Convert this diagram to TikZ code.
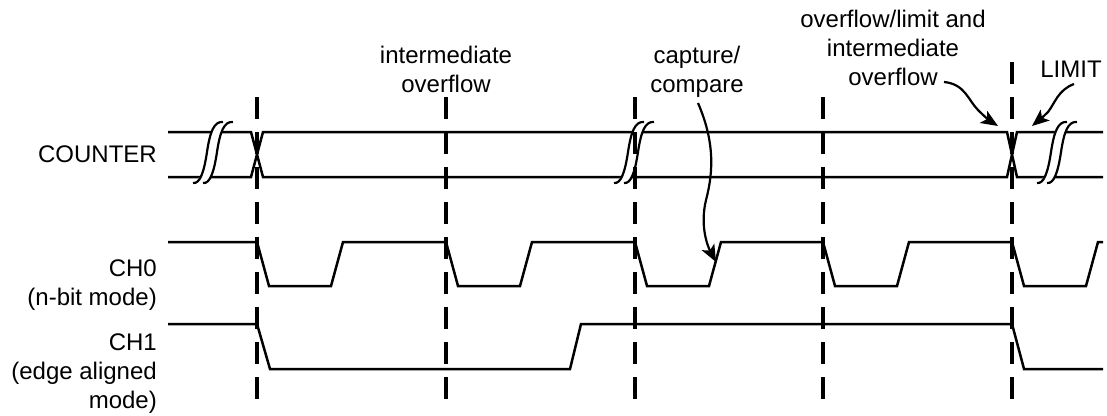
\documentclass[tikz,border=0pt]{standalone}
\usepackage{fontspec}
\setmainfont{Liberation Sans}
\usetikzlibrary{arrows.meta}
\tikzset{
  sig/.style={line width=2.5pt, line join=miter},
  tick/.style={line width=3.2pt, dash pattern=on 22pt off 13pt},
  lbl/.style={inner sep=0pt, font=\fontsize{24}{29}\selectfont},
  callout/.style={line width=2.2pt, -{Stealth[length=17pt,width=14pt,inset=4pt]}}
}
\begin{document}
\begin{tikzpicture}[x=1pt,y=-1pt]
\useasboundingbox (0,0) rectangle (1107,415);
% signal names (base = last line)
\node[lbl, anchor=base east] (cnt) at (157,162) {COUNTER};
\node[lbl, anchor=base east, align=right] (ch0) at (157,305) {CH0\\(n-bit mode)};
\node[lbl, anchor=base east, align=right] (ch1) at (157,408) {CH1\\(edge aligned\\mode)};
% counter bus
\draw[sig] (168,132) -- (251,132) -- (263,177) -- (1007,177) -- (1017,132) -- (1103,132);
\draw[sig] (168,177) -- (251,177) -- (263,132) -- (1007,132) -- (1017,177) -- (1103,177);
% breaks in the bus
\foreach \c in {213,634,1057}{
  \draw[white, line width=9pt] (\c-14,182) .. controls (\c-8,183) and (\c-4,172) .. (\c-1,152)
    .. controls (\c+2,132) and (\c+6,122) .. (\c+14,123);
  \foreach \m in {\c-5,\c+5}
    \draw[line width=2.2pt] (\m-15,183) .. controls (\m-8,184) and (\m-4,172) .. (\m-1,152)
      .. controls (\m+2,132) and (\m+6,121) .. (\m+15,122);
}
% CH0
\draw[sig] (168,242) -- (257,242) -- (269,286) -- (331,286) -- (343,242)
  -- (446,242) -- (458,286) -- (520,286) -- (532,242)
  -- (635,242) -- (647,286) -- (709,286) -- (721,242)
  -- (823,242) -- (835,286) -- (897,286) -- (909,242)
  -- (1012,242) -- (1024,286) -- (1086,286) -- (1098,242) -- (1103,242);
% CH1
\draw[sig] (168,324) -- (257,324) -- (270,369) -- (570,369) -- (581,324)
  -- (1012,324) -- (1024,369) -- (1103,369);
% event lines
\foreach \x in {257,446,635,823}
  \draw[tick] (\x,97) -- (\x,400);
\draw[tick] (1012,62) -- (1012,400);
% event labels
\node[lbl, anchor=base, align=center] (intov) at (446,92) {intermediate\\overflow};
\node[lbl, anchor=base, align=center] (capcmp) at (697,92) {capture/\\compare};
\node[lbl, anchor=base, align=center] (ovlim) at (893,85) {overflow/limit and\\intermediate\\overflow};
\node[lbl, anchor=base] (limit) at (1071,77) {LIMIT};
% arrow ends
\coordinate (captail) at (698,103);
\coordinate (caphead) at (716,262);
\coordinate (ovtail) at (944,82);
\coordinate (ovhead) at (998,126);
\coordinate (limtail) at (1074,84);
\coordinate (limhead) at (1032,126);
\draw[callout] (captail) .. controls (714,140) and (714,170) .. (706,200)
  .. controls (700,225) and (707,245) .. (caphead);
\draw[callout] (ovtail) .. controls (965,84) and (968,100) .. (978,110)
  .. controls (985,117) and (990,121) .. (ovhead);
\draw[callout] (limtail) .. controls (1058,90) and (1055,103) .. (1048,112)
  .. controls (1043,117) and (1038,121) .. (limhead);
\end{tikzpicture}
\end{document}
